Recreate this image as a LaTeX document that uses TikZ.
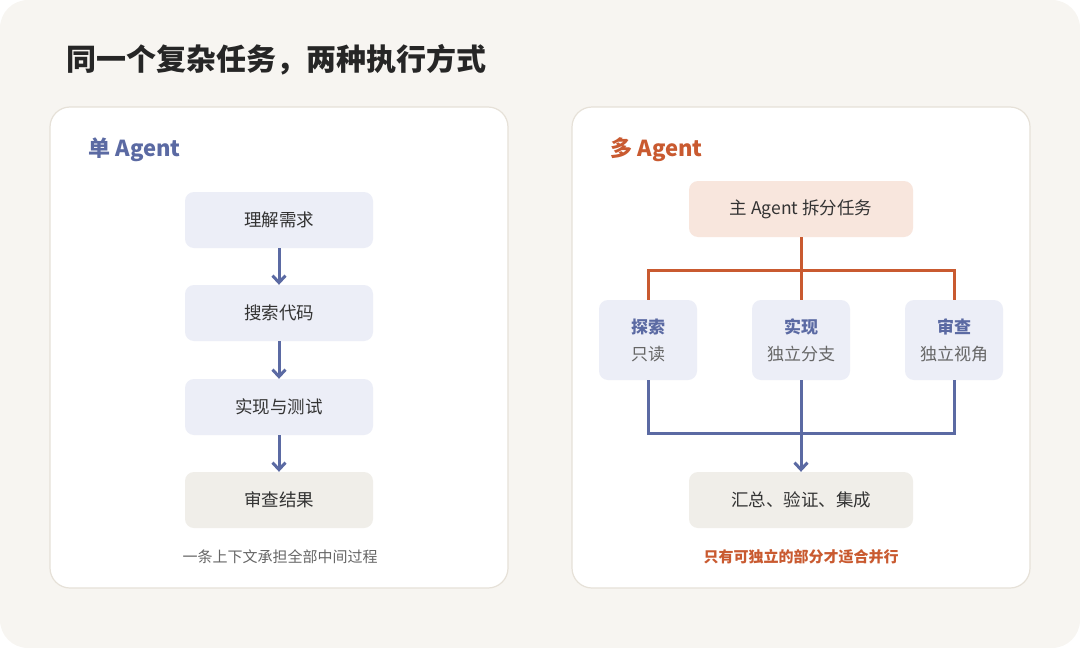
\documentclass[tikz,border=0pt]{standalone}
\usepackage{fontspec}
\setmainfont{Noto Sans CJK SC}
\usetikzlibrary{arrows.meta}
\definecolor{bg}{HTML}{F7F5F1}
\definecolor{bd}{HTML}{E6E1D8}
\definecolor{blu}{HTML}{5B6AA3}
\definecolor{org}{HTML}{C95A30}
\definecolor{bfill}{HTML}{ECEEF7}
\definecolor{gfill}{HTML}{F0EEE9}
\definecolor{ofill}{HTML}{F8E6DD}
\definecolor{txt}{HTML}{333333}
\definecolor{gtx}{HTML}{666666}
\begin{document}
\begin{tikzpicture}[x=1pt,y=-1pt,
 panel/.style={draw=bd,line width=1.2pt,fill=white,rounded corners=20pt},
 box/.style={rounded corners=9pt,minimum width=188pt,minimum height=56pt,font=\fontsize{17.5}{20}\selectfont,text=txt,inner sep=0pt},
 sbox/.style={rounded corners=9pt,fill=bfill,minimum width=98pt,minimum height=80pt,align=center,inner sep=0pt,font=\fontsize{17}{27}\selectfont,text=gtx},
 barr/.style={draw=blu,line width=3pt,-{Straight Barb[length=7pt,width=13pt]}},
 bl/.style={draw=blu,line width=3pt},
 ol/.style={draw=org,line width=3pt}]
\useasboundingbox (0,0) rectangle (1080,648);
\fill[bg,rounded corners=28pt] (0,0) rectangle (1080,648);
\node[anchor=west,font=\fontsize{30}{32}\selectfont\bfseries,text=black!85] (title) at (63,60) {同一个复杂任务，两种执行方式};
\draw[panel] (50,107) rectangle (508,588);
\draw[panel] (572,107) rectangle (1030,588);
\node[anchor=west,font=\fontsize{22}{24}\selectfont\bfseries,text=blu] (lt) at (85,150) {单 Agent};
\node[anchor=west,font=\fontsize{22}{24}\selectfont\bfseries,text=org] (rt) at (607,150) {多 Agent};
% left
\node[box,fill=bfill] (a1) at (279,220) {理解需求};
\node[box,fill=bfill] (a2) at (279,313) {搜索代码};
\node[box,fill=bfill] (a3) at (279,407) {实现与测试};
\node[box,fill=gfill] (a4) at (279,500) {审查结果};
\draw[barr] (a1) -- (a2);
\draw[barr] (a2) -- (a3);
\draw[barr] (a3) -- (a4);
\node[font=\fontsize{15}{17}\selectfont,text=gtx] (lc) at (280,557) {一条上下文承担全部中间过程};
% right
\node[box,fill=ofill,minimum width=224pt] (m) at (801,209) {主 Agent 拆分任务};
\node[sbox] (s1) at (648,340) {{\bfseries\color{blu}探索}\\只读};
\node[sbox] (s2) at (801,340) {{\bfseries\color{blu}实现}\\独立分支};
\node[sbox] (s3) at (954,340) {{\bfseries\color{blu}审查}\\独立视角};
\node[box,fill=gfill,minimum width=224pt] (f) at (801,500) {汇总、验证、集成};
\coordinate (oj) at (801,270);
\coordinate (bj) at (801,433);
\draw[ol] (m.south) -- (oj);
\draw[ol] (s1.north) |- (oj) -| (s3.north);
\draw[ol] (oj) -- (s2.north);
\draw[bl] (s1.south) |- (bj) -| (s3.south);
\draw[bl] (s2.south) -- (bj);
\draw[barr] (bj) -- (f.north);
\node[font=\fontsize{15}{17}\selectfont\bfseries,text=org] (rc) at (801,557) {只有可独立的部分才适合并行};
\end{tikzpicture}
\end{document}
